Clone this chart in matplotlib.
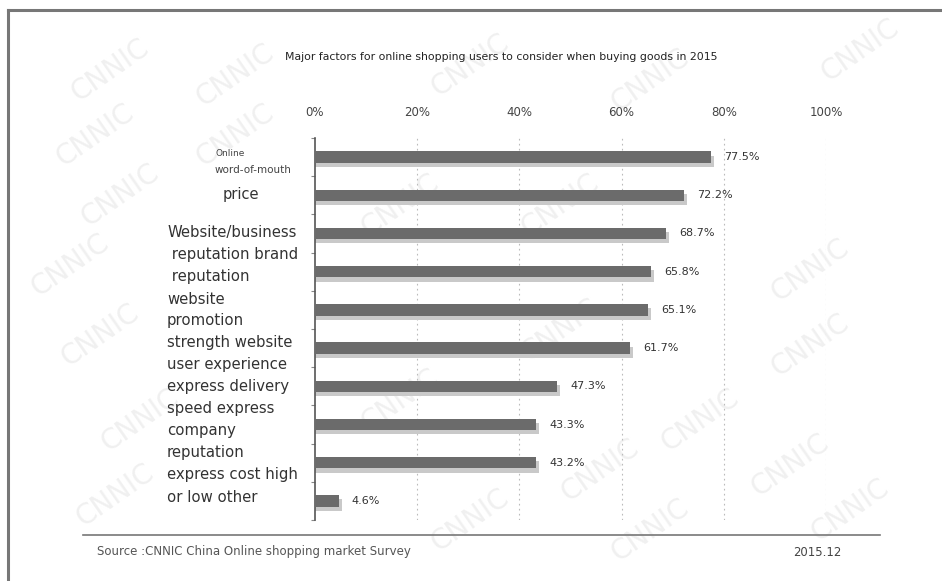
import matplotlib
matplotlib.use("Agg")
import matplotlib.pyplot as plt
from matplotlib.lines import Line2D

# ---- data ----
categories = ["Online word-of-mouth", "price", "Website/business reputation",
              "brand reputation", "website promotion strength", "website user experience",
              "express delivery speed", "express company reputation",
              "express cost high or low", "other"]
values = [77.5, 72.2, 68.7, 65.8, 65.1, 61.7, 47.3, 43.3, 43.2, 4.6]
value_labels = ["77.5%", "72.2%", "68.7%", "65.8%", "65.1%", "61.7%", "47.3%", "43.3%", "43.2%", "4.6%"]
x_ticks = [0, 20, 40, 60, 80, 100]
x_ticklabels = ["0%", "20%", "40%", "60%", "80%", "100%"]
label_lines = ["Website/business", " reputation brand", " reputation", "website",
               "promotion", "strength website", "user experience", "express delivery",
               "speed express", "company", "reputation", "express cost high",
               "or low other"]
title = "Major factors for online shopping users to consider when buying goods in 2015"
source = "Source :CNNIC China Online shopping market Survey"
date = "2015.12"

W, H = 942, 581
fig = plt.figure(figsize=(W / 100, H / 100), dpi=100)
fig.patch.set_facecolor("white")

def fx(px):
    return px / W

def fy(py):
    return 1 - py / H

# faint watermarks
wm_pos = [(110, 70), (235, 75), (470, 65), (650, 80), (860, 50), (95, 135), (235, 135),
          (120, 195), (70, 265), (100, 335), (140, 420), (115, 495),
          (400, 205), (560, 205), (810, 270), (810, 345), (790, 465), (850, 510),
          (600, 470), (470, 520), (650, 530), (400, 400), (560, 330), (700, 420)]
for (px, py) in wm_pos:
    fig.text(fx(px), fy(py), "CNNIC", fontsize=20, color="#f0f0f0", rotation=35,
             ha="center", va="center", zorder=-5)

ax = fig.add_axes([fx(315), fy(520), fx(826) - fx(315), fy(138) - fy(520)])
ax.set_facecolor("none")
ax.set_zorder(2)
n = len(values)
ypos = list(range(n))
ax.barh([y + 0.11 for y in ypos], [v + 0.6 for v in values], height=0.3,
        color="#c9c9c9", zorder=2)
ax.barh(ypos, values, height=0.3, color="#6b6b6b", zorder=3)
for y, v, lab in zip(ypos, values, value_labels):
    ax.text(v + 2.6, y, lab, fontsize=8, color="#333333", va="center", ha="left")

ax.set_xlim(0, 100)
ax.set_ylim(n - 1 + 0.47, -0.37)
ax.xaxis.tick_top()
ax.set_xticks(x_ticks)
ax.set_xticklabels(x_ticklabels, fontsize=8.5, color="#444444")
ax.tick_params(axis="x", length=0, pad=14)
for t in x_ticks[1:]:
    ax.axvline(t, color="#bbbbbb", lw=0.8, ls=(0, (1.5, 3)), zorder=1)
ax.set_yticks([y - 0.5 for y in ypos] + [n - 0.5])
ax.set_yticklabels([])
ax.tick_params(axis="y", length=3, color="#888888", direction="out")
for s in ["top", "right", "bottom"]:
    ax.spines[s].set_visible(False)
ax.spines["left"].set_color("#555555")
ax.spines["left"].set_linewidth(1.2)

# left labels (as in the original, not aligned to bars)
fig.text(fx(215), fy(153), "Online", fontsize=6.5, color="#444444", va="center")
fig.text(fx(215), fy(170), "word-of-mouth", fontsize=7.5, color="#444444", va="center")
fig.text(fx(223), fy(195), "price", fontsize=10.5, color="#333333", va="center")
y0, dy = 233, 22
for i, line in enumerate(label_lines):
    fig.text(fx(167), fy(y0 + i * dy), line, fontsize=10.7, color="#333333",
             va="center", ha="left")

fig.text(fx(501), fy(57), title, fontsize=7.8, color="#222222", ha="center", va="center")
fig.add_artist(Line2D([fx(83), fx(880)], [fy(535), fy(535)], color="#777777", lw=1.2))
fig.text(fx(97), fy(552), source, fontsize=8.5, color="#555555", ha="left", va="center")
fig.text(fx(817), fy(553), date, fontsize=8.4, color="#444444", ha="center", va="center")

# frame
fig.add_artist(Line2D([fx(8), fx(942)], [fy(10), fy(10)], color="#777777", lw=2.2))
fig.add_artist(Line2D([fx(8), fx(8)], [fy(10), fy(581)], color="#777777", lw=2.2))

fig.savefig("out.png", dpi=100, facecolor="white")
